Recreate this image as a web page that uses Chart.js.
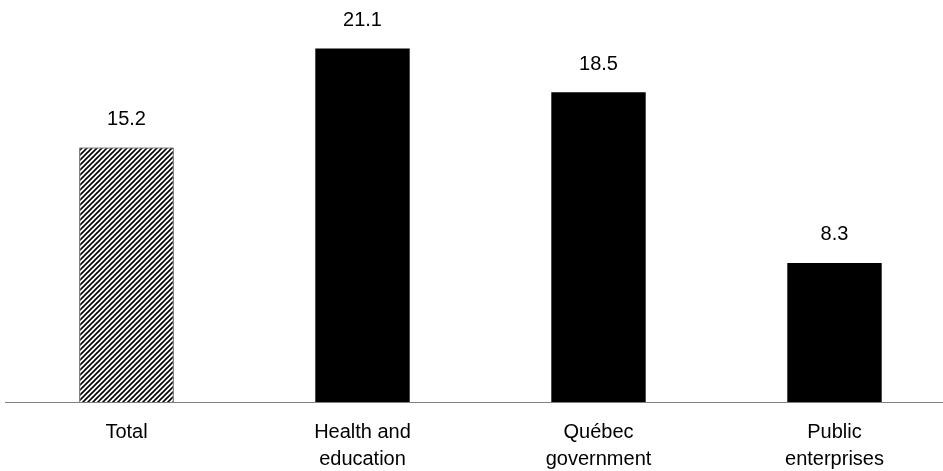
<!DOCTYPE html>
<html>
<head>
<meta charset="utf-8">
<script src="https://cdn.jsdelivr.net/npm/chart.js@4/dist/chart.umd.min.js"></script>
<style>
  html, body { margin: 0; padding: 0; background: #fff; overflow: hidden; }
  #wrap { width: 960px; height: 471px; position: relative; }
</style>
</head>
<body>
<div id="wrap"><canvas id="chart"></canvas></div>
<script>
const categories = [["Total"], ["Health and", "education"], ["Québec", "government"], ["Public", "enterprises"]];
const values = [15.2, 21.1, 18.5, 8.3];

const FONT = "'Liberation Sans', Arial, sans-serif";

// diagonal hatch for the "Total" bar
function makeHatch() {
    const size = 5;
    const c = document.createElement("canvas");
    c.width = size;
    c.height = size;
    const g = c.getContext("2d");
    g.fillStyle = "#fff";
    g.fillRect(0, 0, size, size);
    g.strokeStyle = "#000";
    g.lineWidth = 1.6;
    g.beginPath();
    g.moveTo(-1, size + 1); g.lineTo(size + 1, -1);
    g.moveTo(-1, 1); g.lineTo(1, -1);
    g.moveTo(size - 1, size + 1); g.lineTo(size + 1, size - 1);
    g.stroke();
    return g.createPattern(c, "repeat");
}

const hatch = makeHatch();

// value labels above each bar + the baseline
const valueLabels = {
    id: "valueLabels",
    afterDatasetsDraw(chart) {
        const ctx = chart.ctx;
        const meta = chart.getDatasetMeta(0);
        const area = chart.chartArea;
        ctx.save();
        ctx.strokeStyle = "#808080";
        ctx.lineWidth = 1;
        ctx.beginPath();
        ctx.moveTo(5, Math.round(area.bottom) + 0.5);
        ctx.lineTo(943, Math.round(area.bottom) + 0.5);
        ctx.stroke();

        ctx.font = "20px " + FONT;
        ctx.fillStyle = "#000";
        ctx.textAlign = "center";
        ctx.textBaseline = "middle";
        meta.data.forEach((bar, i) => {
            ctx.fillText(values[i].toFixed(1), bar.x, bar.y - 28);
        });
        ctx.restore();
    }
};

new Chart(document.getElementById("chart"), {
    type: "bar",
    data: {
        labels: categories,
        datasets: [{
            data: values,
            backgroundColor: values.map((v, i) => i === 0 ? hatch : "#000"),
            borderColor: "#000",
            borderWidth: values.map((v, i) => i === 0 ? 1 : 0),
            barPercentage: 0.4,
            categoryPercentage: 1
        }]
    },
    options: {
        responsive: true,
        maintainAspectRatio: false,
        animation: false,
        layout: { padding: { left: 8.5, right: 7.5, top: 0, bottom: 0 } },
        plugins: {
            legend: { display: false },
            tooltip: { enabled: false }
        },
        scales: {
            x: {
                grid: { display: false, drawTicks: false },
                border: { display: false },
                afterFit(scale) { scale.height = 69; },
                ticks: {
                    color: "#000",
                    padding: 16.5,
                    maxRotation: 0,
                    font: { family: FONT, size: 20, lineHeight: 1.35 }
                }
            },
            y: {
                display: false,
                min: 0,
                max: 24
            }
        }
    },
    plugins: [valueLabels]
});
</script>
</body>
</html>
